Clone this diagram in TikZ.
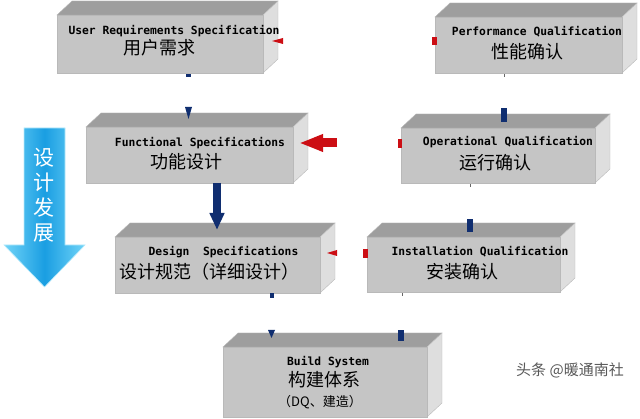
\documentclass[tikz,border=0pt]{standalone}
\usepackage{fontspec}
\setmonofont{DejaVu Sans Mono}
\newfontfamily\cjk{Noto Sans CJK SC}
\usepackage{xcolor}
\usepackage{tikz}
\usetikzlibrary{arrows.meta}
\usetikzlibrary{calc}
\definecolor{facegray}{RGB}{197,197,197}
\definecolor{topgray}{RGB}{158,158,158}
\definecolor{sidegray}{RGB}{222,222,222}
\definecolor{navyblue}{RGB}{16,46,112}
\definecolor{darkred}{RGB}{204,14,20}
\definecolor{skyedge}{RGB}{112,212,248}
\definecolor{skymid}{RGB}{26,158,226}

\begin{document}
\begin{tikzpicture}[x=1pt,y=-1pt,
  front/.style={fill=facegray,draw=gray!55,line width=0.4pt},
  topface/.style={fill=topgray,draw=gray!55,line width=0.4pt},
  sideface/.style={fill=sidegray,draw=gray!55,line width=0.4pt},
  entext/.style={font=\ttfamily\bfseries\fontsize{11.3}{12}\selectfont,inner sep=0pt},
  zhtext/.style={font=\cjk\fontsize{18}{20}\selectfont,inner sep=0pt}]

\useasboundingbox (0,0) rectangle (640,419);

% the seven boxes: name / front face corners
\foreach \n/\xa/\ya/\xb/\yb in {urs/57/15/263/73, pq/435/17/622/73, fs/86/127/293/183,
  oq/401/128/595/183, ds/115/237/320/293, iq/367/237/560/292, bs/223/347/427/417}{
  \filldraw[topface] (\xa,\ya) -- (\xa+15,\ya-14) -- (\xb+15,\ya-14) -- (\xb,\ya) -- cycle;
  \filldraw[sideface] (\xb,\ya) -- (\xb+15,\ya-14) -- (\xb+15,\yb-14) -- (\xb,\yb) -- cycle;
  \filldraw[front] (\xa,\ya) rectangle (\xb,\yb);
  \coordinate (\n) at (\xa,\ya);
}

\node[entext] (ursen) at (174,31) {User Requirements Specification};
\node[zhtext] (urszh) at (159,48) {用户需求};
\node[entext] (pqen) at (537,32) {Performance Qualification};
\node[zhtext] (pqzh) at (527,52) {性能确认};
\node[entext] (fsen) at (200,143) {Functional Specifications};
\node[zhtext] (fszh) at (186,162) {功能设计};
\node[entext] (oqen) at (508,142) {Operational Qualification};
\node[zhtext] (oqzh) at (495,163) {运行确认};
\node[entext] (dsen) at (223.5,252) {Design~~Specifications};
\node[zhtext] (dszh) at (209,272) {设计规范（详细设计）};
\node[entext] (iqen) at (480,252) {Installation Qualification};
\node[zhtext] (iqzh) at (462,272) {安装确认};
\node[entext] (bsen) at (328,362) {Build System};
\node[zhtext] (bszh) at (324,380) {构建体系};
\node[zhtext,font=\cjk\fontsize{13}{14}\selectfont] (bsdq) at (320,402) {（DQ、建造）};

% big side arrow
\shade[left color=skyedge,right color=skyedge,middle color=skymid,draw=skyedge!50!white,line width=0.6pt]
  (24,128) -- (65,128) -- (65,245) -- (85,245) -- (44.5,287) -- (4,245) -- (24,245) -- cycle;
\foreach \c [count=\i] in {设,计,发,展}
  \node[white,font=\cjk\fontsize{21}{22}\selectfont,inner sep=0pt] (dev\i) at (44,133+25*\i) {\c};

% connector bits
\coordinate (oqtail) at (337,143);
\coordinate (fstip) at (299,143);
\draw[darkred,line width=9pt,-{Triangle[length=24pt,width=16pt]}] (oqtail) -- (fstip);
\coordinate (fsout) at (217,183);
\coordinate (dsin) at (217,230);
\draw[navyblue,line width=8pt,-{Triangle[length=17pt,width=14pt]}] (fsout) -- (dsin);

\fill[darkred] (272,41) -- (283,38) -- (283,44) -- cycle;
\fill[darkred] (432,37) rectangle (437,45);
\fill[darkred] (398,139) rectangle (402,148);
\fill[darkred] (327,253) -- (337,250) -- (337,256) -- cycle;
\fill[darkred] (363,249) rectangle (368,258);

\fill[navyblue] (186,74) rectangle (191,77);
\fill[navyblue] (185,107) -- (192,107) -- (188.5,119) -- cycle;
\fill[navyblue] (270,293) rectangle (274,298);
\fill[navyblue] (268,330) -- (275,330) -- (271.5,338) -- cycle;
\fill[navyblue] (398,330) rectangle (404,341);
\fill[navyblue] (467,219) rectangle (473,232);
\fill[navyblue] (501,108) rectangle (507,122);
%\fill[black!70] (503.5,74) rectangle (504.5,77);
\fill[black!60] (503.6,74) rectangle (504.4,77);
\fill[black!60] (469.6,184) rectangle (470.4,187);
\fill[black!60] (401.6,293) rectangle (402.4,296);

\node[font=\cjk\fontsize{15}{16}\selectfont,text=black!65] (mark) at (570,370) {头条 @暖通南社};
\end{tikzpicture}
\end{document}
